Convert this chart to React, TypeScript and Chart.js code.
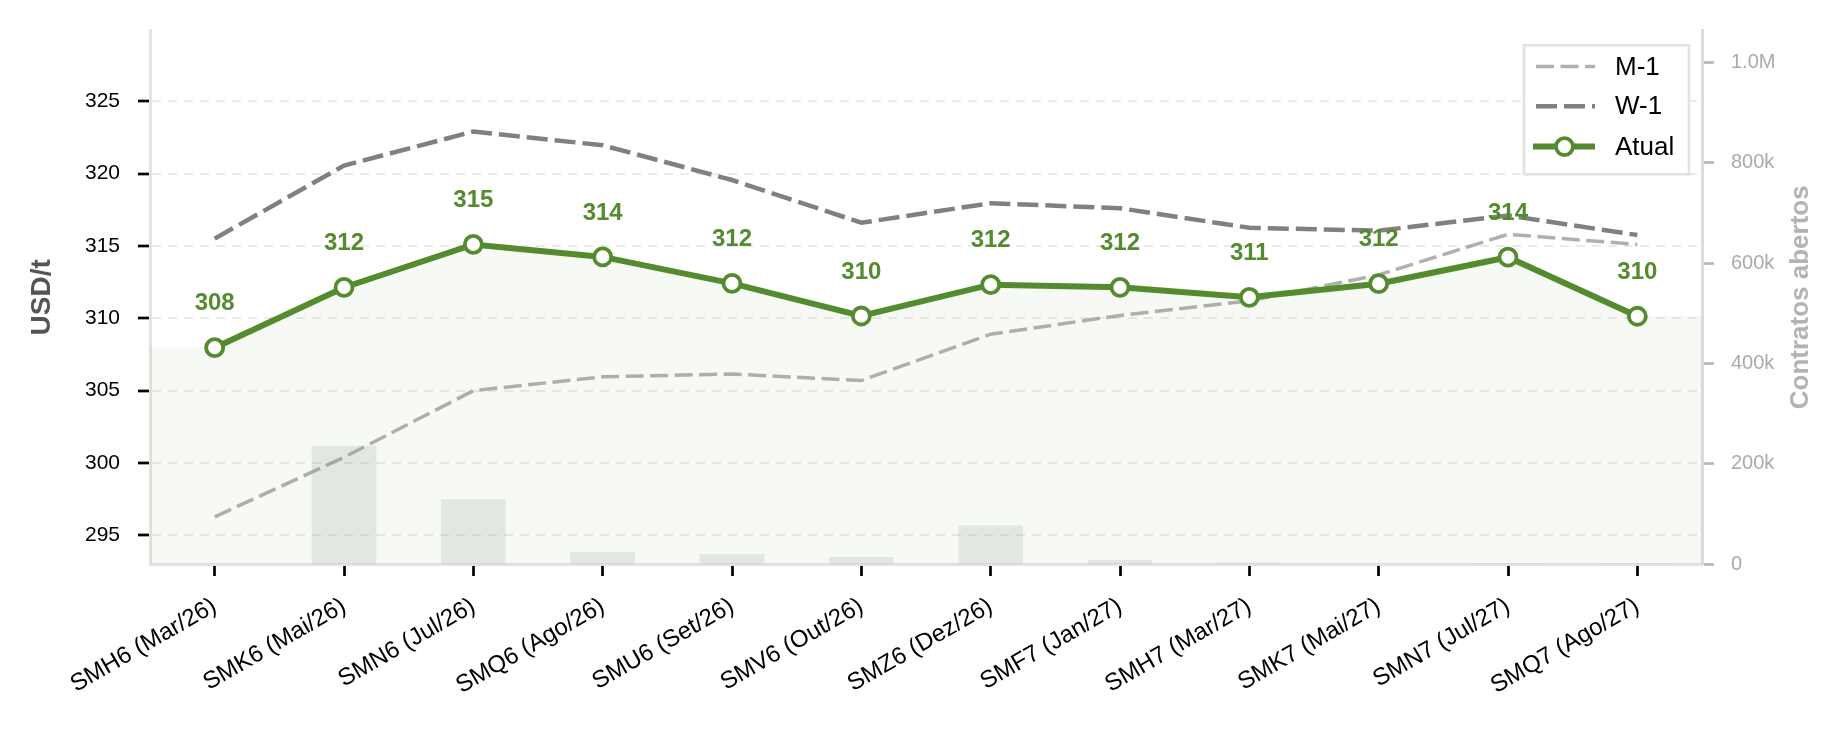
import React, { useEffect, useRef } from 'react';
import { Chart, registerables } from 'chart.js';

Chart.register(...registerables);

// ---------- data ----------
const CATEGORIES = [
  'SMH6 (Mar/26)', 'SMK6 (Mai/26)', 'SMN6 (Jul/26)', 'SMQ6 (Ago/26)',
  'SMU6 (Set/26)', 'SMV6 (Out/26)', 'SMZ6 (Dez/26)', 'SMF7 (Jan/27)',
  'SMH7 (Mar/27)', 'SMK7 (Mai/27)', 'SMN7 (Jul/27)', 'SMQ7 (Ago/27)',
];
const ATUAL = [307.97, 312.13, 315.1, 314.24, 312.41, 310.16, 312.32, 312.14, 311.45, 312.39, 314.22, 310.14];
const W1 = [315.5, 320.55, 322.9, 321.95, 319.55, 316.6, 317.95, 317.6, 316.25, 316.05, 317.1, 315.75];
const M1 = [296.28, 300.4, 305.0, 305.96, 306.15, 305.7, 308.9, 310.2, 311.2, 313.0, 315.8, 315.1];
const OPEN_INTEREST = [0, 236000, 129000, 24000, 20000, 14000, 77000, 8000, 3000, 1000, 600, 200];
const PRICE_TICKS = [295, 300, 305, 310, 315, 320, 325];
const OI_TICKS = [0, 200000, 400000, 600000, 800000, 1000000];
const PRICE_MIN = 293.03;
const PRICE_MAX = 329.87;
const OI_MAX = 1064000;
const LEGEND_LABELS = ['M-1', 'W-1', 'Atual'];

// ---------- styles ----------
const FONT = "'Liberation Sans', Arial, Helvetica, sans-serif";
const GREEN = '#558b2f';
const W1_COLOR = '#808080';
const M1_COLOR = 'rgba(150,150,150,0.75)';
const FILL_COLOR = 'rgba(85,139,47,0.055)';
const BAR_COLOR = 'rgba(160,162,156,0.22)';

const fillPlugin = {
  id: 'atualFill',
  beforeDatasetsDraw(chart: any) {
    const { ctx, chartArea, scales } = chart;
    const xs = scales.x;
    const ys = scales.y;
    ctx.save();
    ctx.beginPath();
    ctx.moveTo(chartArea.left, chartArea.bottom);
    ctx.lineTo(chartArea.left, ys.getPixelForValue(ATUAL[0]));
    ATUAL.forEach((v, i) => ctx.lineTo(xs.getPixelForValue(i), ys.getPixelForValue(v)));
    ctx.lineTo(chartArea.right, ys.getPixelForValue(ATUAL[ATUAL.length - 1]));
    ctx.lineTo(chartArea.right, chartArea.bottom);
    ctx.closePath();
    ctx.fillStyle = FILL_COLOR;
    ctx.fill();
    ctx.restore();
  },
};

const labelsPlugin = {
  id: 'atualLabels',
  afterDatasetsDraw(chart: any) {
    const { ctx } = chart;
    const meta = chart.getDatasetMeta(0);
    ctx.save();
    ctx.font = `bold 24px ${FONT}`;
    ctx.fillStyle = GREEN;
    ctx.textAlign = 'center';
    ctx.textBaseline = 'middle';
    meta.data.forEach((pt: any, i: number) => {
      ctx.fillText(String(Math.round(ATUAL[i])), pt.x, pt.y - 44);
    });
    ctx.restore();
  },
};

const titlesPlugin = {
  id: 'axisTitles',
  afterDraw(chart: any) {
    const { ctx, chartArea } = chart;
    const cy = (chartArea.top + chartArea.bottom) / 2;
    ctx.save();
    ctx.textAlign = 'center';
    ctx.textBaseline = 'middle';
    ctx.translate(42, cy);
    ctx.rotate(-Math.PI / 2);
    ctx.font = `bold 28px ${FONT}`;
    ctx.fillStyle = '#555555';
    ctx.fillText('USD/t', 0, 0);
    ctx.restore();

    ctx.save();
    ctx.textAlign = 'center';
    ctx.textBaseline = 'middle';
    ctx.translate(chartArea.right + 99, cy);
    ctx.rotate(-Math.PI / 2);
    ctx.font = `bold 26px ${FONT}`;
    ctx.fillStyle = '#b3b3b3';
    ctx.fillText('Contratos abertos', 0, 0);
    ctx.restore();
  },
};

const legendPlugin = {
  id: 'customLegend',
  afterDraw(chart: any) {
    const { ctx, chartArea } = chart;
    const w = 165;
    const h = 129;
    const x1 = chartArea.right - 13 - w;
    const y1 = chartArea.top + 14.7;
    ctx.save();
    ctx.fillStyle = 'rgba(255,255,255,0.92)';
    ctx.fillRect(x1, y1, w, h);
    ctx.strokeStyle = '#e3e3e3';
    ctx.lineWidth = 2.7;
    ctx.strokeRect(x1, y1, w, h);

    const sx1 = x1 + 12;
    const sx2 = x1 + 71;
    const rows = [y1 + 21.3, y1 + 61, y1 + 101.3];
    const styles = [
      { color: M1_COLOR, width: 3.5, dash: [18, 6.5], marker: false },
      { color: W1_COLOR, width: 4.5, dash: [21, 7], marker: false },
      { color: GREEN, width: 6, dash: [] as number[], marker: true },
    ];
    styles.forEach((s, i) => {
      const y = rows[i];
      ctx.beginPath();
      ctx.setLineDash(s.dash);
      ctx.strokeStyle = s.color;
      ctx.lineWidth = s.width;
      ctx.moveTo(s.marker ? sx1 - 3 : sx1, y);
      ctx.lineTo(sx2, y);
      ctx.stroke();
      ctx.setLineDash([]);
      if (s.marker) {
        ctx.beginPath();
        ctx.arc((sx1 + sx2) / 2 - 1, y, 8.5, 0, Math.PI * 2);
        ctx.fillStyle = '#ffffff';
        ctx.fill();
        ctx.lineWidth = 3.8;
        ctx.strokeStyle = GREEN;
        ctx.stroke();
      }
      ctx.font = `26px ${FONT}`;
      ctx.fillStyle = '#000000';
      ctx.textAlign = 'left';
      ctx.textBaseline = 'middle';
      ctx.fillText(LEGEND_LABELS[i], x1 + 91, y + 1);
    });
    ctx.restore();
  },
};

function formatOI(v: number): string {
  if (v === 0) return '0';
  if (v >= 1000000) return (v / 1000000).toFixed(1) + 'M';
  return Math.round(v / 1000) + 'k';
}

export default function App() {
  const canvasRef = useRef<HTMLCanvasElement>(null);

  useEffect(() => {
    const canvas = canvasRef.current;
    if (!canvas) return;
    const chart = new Chart(canvas, {
      type: 'line',
      data: {
        labels: CATEGORIES,
        datasets: [
          {
            type: 'line',
            label: 'Atual',
            data: ATUAL,
            yAxisID: 'y',
            borderColor: GREEN,
            borderWidth: 6,
            pointRadius: 8.5,
            pointBorderWidth: 3.8,
            pointBackgroundColor: '#ffffff',
            pointBorderColor: GREEN,
            tension: 0,
            fill: false,
            order: 0,
            clip: false,
          } as any,
          {
            type: 'line',
            label: 'W-1',
            data: W1,
            yAxisID: 'y',
            borderColor: W1_COLOR,
            borderWidth: 4.5,
            borderDash: [21, 7],
            pointRadius: 0,
            tension: 0,
            fill: false,
            order: 1,
          } as any,
          {
            type: 'line',
            label: 'M-1',
            data: M1,
            yAxisID: 'y',
            borderColor: M1_COLOR,
            borderWidth: 3.5,
            borderDash: [18, 6.5],
            pointRadius: 0,
            tension: 0,
            fill: false,
            order: 2,
          } as any,
          {
            type: 'bar',
            label: 'Contratos abertos',
            data: OPEN_INTEREST,
            yAxisID: 'y2',
            backgroundColor: BAR_COLOR,
            borderWidth: 0,
            barPercentage: 0.5,
            categoryPercentage: 1,
            order: 3,
          } as any,
        ],
      },
      options: {
        responsive: false,
        animation: false,
        devicePixelRatio: 1,
        layout: { padding: { top: 27, left: 0, right: 0, bottom: 0 } },
        plugins: {
          legend: { display: false },
          tooltip: { enabled: false },
        },
        scales: {
          x: {
            type: 'category',
            offset: true,
            grid: {
              display: true,
              drawOnChartArea: false,
              drawTicks: true,
              offset: false,
              tickLength: 12,
              tickColor: '#000000',
              tickWidth: 2.7,
            },
            border: { display: true, color: '#e3e3e3', width: 3 },
            ticks: {
              color: '#000000',
              font: { family: FONT, size: 24 },
              minRotation: 30,
              maxRotation: 30,
              autoSkip: false,
              padding: 16,
            },
            afterFit: (s: any) => { s.height = 170; },
          },
          y: {
            type: 'linear',
            position: 'left',
            min: PRICE_MIN,
            max: PRICE_MAX,
            afterBuildTicks: (s: any) => { s.ticks = PRICE_TICKS.map((v) => ({ value: v })); },
            grid: {
              color: '#ebebeb',
              lineWidth: 2,
              tickColor: '#000000',
              tickWidth: 2.7,
              tickLength: 12,
              tickBorderDash: [],
            } as any,
            border: { display: true, color: '#e3e3e3', width: 3, dash: [9, 7] },
            ticks: {
              color: '#000000',
              font: { family: FONT, size: 21 },
              padding: 18,
            },
            afterFit: (s: any) => { s.width = 150; },
          },
          y2: {
            type: 'linear',
            position: 'right',
            min: 0,
            max: OI_MAX,
            afterBuildTicks: (s: any) => { s.ticks = OI_TICKS.map((v) => ({ value: v })); },
            grid: {
              drawOnChartArea: false,
              drawTicks: true,
              tickColor: '#b8b8b8',
              tickWidth: 2.7,
              tickLength: 12,
            },
            border: { display: true, color: '#dcdcdc', width: 3 },
            ticks: {
              color: '#aaaaaa',
              font: { family: FONT, size: 20 },
              padding: 17,
              callback: (v: any) => formatOI(Number(v)),
            },
            afterFit: (s: any) => { s.width = 144; },
          },
        },
      } as any,
      plugins: [fillPlugin, labelsPlugin, titlesPlugin, legendPlugin],
    });
    return () => chart.destroy();
  }, []);

  return (
    <div style={{ position: 'absolute', left: 0, top: 0, width: 1846, height: 734, background: '#ffffff' }}>
      <canvas ref={canvasRef} width={1846} height={734} style={{ display: 'block', width: 1846, height: 734 }} />
    </div>
  );
}
